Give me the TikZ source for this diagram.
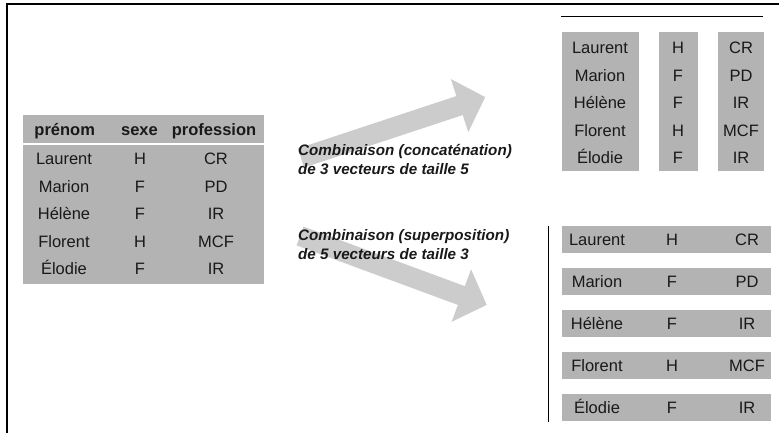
\documentclass[tikz,border=0pt]{standalone}
\usepackage{fontspec}
\setmainfont{Liberation Sans}
\definecolor{cellgray}{RGB}{179,179,179}
\definecolor{arrowgray}{RGB}{204,204,204}
\newcommand*{\celltextstyle}{\fontsize{16.5}{20}\selectfont\color{black!90}}
\newcommand*{\headtextstyle}{\fontsize{16.5}{20}\selectfont\bfseries\color{black!90}}
\newcommand*{\notetextstyle}{\fontsize{15.2}{19}\selectfont\bfseries\itshape\color{black!90}}
\newcommand{\fatarrow}[4]{%
   % tail x, tail y, angle, length
   \pgfmathsetmacro{\ashaft}{10}
   \pgfmathsetmacro{\ahead}{28}
   \pgfmathsetmacro{\alen}{#4}
   \pgfmathsetmacro{\abase}{#4-27}
   \fill[arrowgray, shift={(#1,#2)}, rotate=#3]
         (0,-\ashaft) -- (\abase,-\ashaft) -- (\abase,-\ahead)
      -- (\alen,0)    -- (\abase,\ahead)   -- (\abase,\ashaft)
      -- (0,\ashaft)  -- cycle;
}
\tikzset{
   cell/.style={font=\celltextstyle, inner sep=0pt, text height=11.8pt, text depth=0pt},
   head/.style={cell, font=\headtextstyle},
   note/.style={font=\notetextstyle, inner sep=0pt, align=left, anchor=west}
}

\begin{document}
\begin{tikzpicture}[x=1pt, y=-1pt]
    \useasboundingbox (0,0) rectangle (779,433);

    % frame
    \draw[line width=1.8pt] (7,433) -- (7,4) -- (779,4);

    % arrows
    \fatarrow{301}{158}{18.3}{194}
    \fatarrow{300}{236}{-20.25}{199}

    % source table
    \fill[cellgray] (23,115) rectangle (264,284);
    \draw[white, line width=1.5pt] (23,144) -- (264,144);
    \node[head] (hname) at (64.7,130) {prénom};
    \node[head] (hsex)  at (139.5,130) {sexe};
    \node[head] (hjob)  at (214,130) {profession};
    \foreach \pname/\psex/\pjob [count=\i] in
       {Laurent/H/CR, Marion/F/PD, Hélène/F/IR, Florent/H/MCF, Élodie/F/IR}{
       \node[cell] (lname\i) at (64,{159+27.5*(\i-1)}) {\pname};
       \node[cell] (lsex\i)  at (140,{159+27.5*(\i-1)}) {\psex};
       \node[cell] (ljob\i)  at (216,{159+27.5*(\i-1)}) {\pjob};
    }

    % labels
    \node[note] (concat) at (298,159.4)
       {Combinaison (concaténation)\\ de 3 vecteurs de taille 5};
    \node[note] (superp) at (298,244.3)
       {Combinaison (superposition)\\ de 5 vecteurs de taille 3};

    % concatenation: 3 columns
    \draw[line width=1pt] (561,17) -- (763,17);
    \fill[cellgray] (562,32) rectangle (639,171);
    \fill[cellgray] (659,32) rectangle (698,171);
    \fill[cellgray] (718,32) rectangle (764,171);
    \foreach \pname/\psex/\pjob [count=\i] in
       {Laurent/H/CR, Marion/F/PD, Hélène/F/IR, Florent/H/MCF, Élodie/F/IR}{
       \node[cell] (cname\i) at (600,{48+27.5*(\i-1)}) {\pname};
       \node[cell] (csex\i)  at (678,{48+27.5*(\i-1)}) {\psex};
       \node[cell] (cjob\i)  at (741,{48+27.5*(\i-1)}) {\pjob};
    }

    % superposition: 5 rows
    \draw[line width=1pt] (548,226) -- (548,422);
    \foreach \pname/\psex/\pjob [count=\i] in
       {Laurent/H/CR, Marion/F/PD, Hélène/F/IR, Florent/H/MCF, Élodie/F/IR}{
       \fill[cellgray] (562,{226+42*(\i-1)}) rectangle (771,{253+42*(\i-1)});
       \node[cell] (sname\i) at (597,{239.5+42*(\i-1)}) {\pname};
       \node[cell] (ssex\i)  at (672,{239.5+42*(\i-1)}) {\psex};
       \node[cell] (sjob\i)  at (747,{239.5+42*(\i-1)}) {\pjob};
    }
\end{tikzpicture}
\end{document}
